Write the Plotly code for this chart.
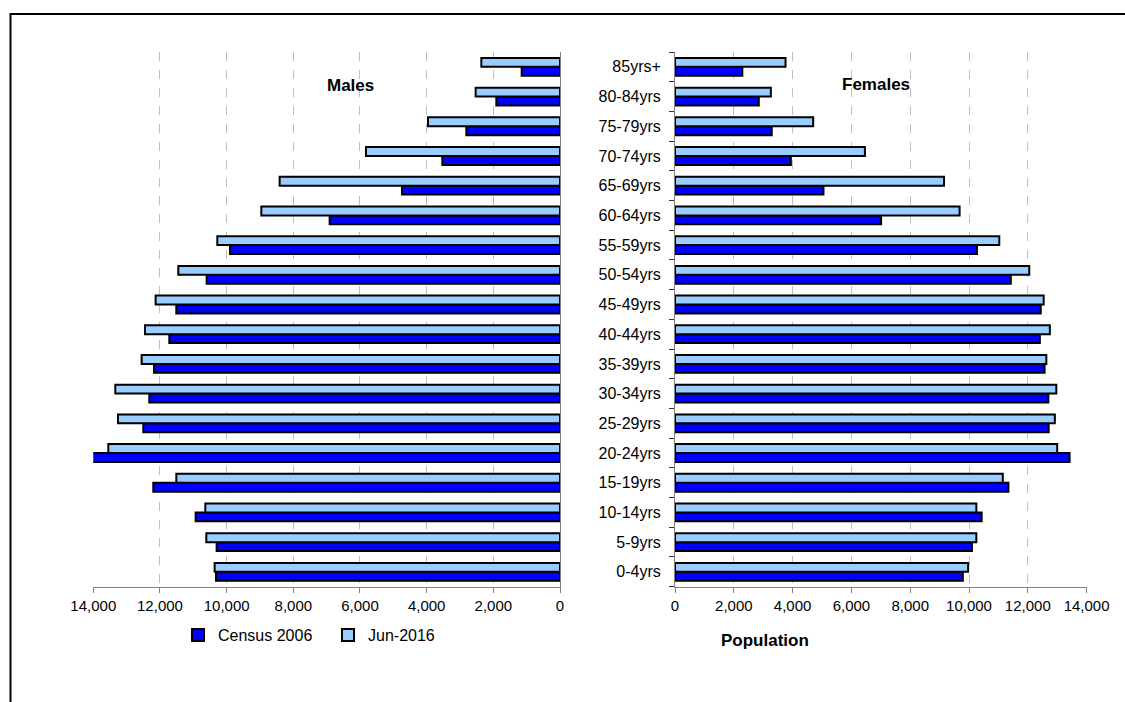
import plotly.graph_objects as go

# Age bands, bottom to top
age_groups = ["0-4yrs", "5-9yrs", "10-14yrs", "15-19yrs", "20-24yrs", "25-29yrs",
              "30-34yrs", "35-39yrs", "40-44yrs", "45-49yrs", "50-54yrs", "55-59yrs",
              "60-64yrs", "65-69yrs", "70-74yrs", "75-79yrs", "80-84yrs", "85yrs+"]

males_census_2006 = [10320, 10300, 10930, 12200, 14120, 12500, 12320, 12180, 11720,
                     11510, 10600, 9900, 6910, 4740, 3530, 2810, 1910, 1150]
males_jun_2016 = [10360, 10610, 10640, 11510, 13550, 13260, 13340, 12550, 12450,
                  12130, 11450, 10280, 8960, 8410, 5820, 3960, 2530, 2360]
females_census_2006 = [9790, 10100, 10430, 11340, 13420, 12710, 12700, 12570, 12410,
                       12440, 11420, 10270, 7010, 5050, 3940, 3290, 2850, 2290]
females_jun_2016 = [9970, 10250, 10250, 11150, 13000, 12920, 12970, 12630, 12750,
                    12540, 12050, 11030, 9680, 9150, 6460, 4700, 3260, 3760]

x_ticks = list(range(0, 14001, 2000))
x_tick_text = [f"{v:,}" for v in x_ticks]

DARK = "#0000FF"
LIGHT = "#99CCFF"
FONT = "Liberation Sans, Arial, sans-serif"
W, H = 1125, 702

fig = go.Figure()

bar_line = dict(color="black", width=2)

fig.add_trace(go.Bar(y=age_groups, x=males_census_2006, orientation="h",
                     name="Census 2006", marker=dict(color=DARK, line=bar_line),
                     xaxis="x", yaxis="y", legendgroup="c06"))
fig.add_trace(go.Bar(y=age_groups, x=males_jun_2016, orientation="h",
                     name="Jun-2016", marker=dict(color=LIGHT, line=bar_line),
                     xaxis="x", yaxis="y", legendgroup="j16"))
fig.add_trace(go.Bar(y=age_groups, x=females_census_2006, orientation="h",
                     name="Census 2006", marker=dict(color=DARK, line=bar_line),
                     xaxis="x2", yaxis="y2", legendgroup="c06", showlegend=False))
fig.add_trace(go.Bar(y=age_groups, x=females_jun_2016, orientation="h",
                     name="Jun-2016", marker=dict(color=LIGHT, line=bar_line),
                     xaxis="x2", yaxis="y2", legendgroup="j16", showlegend=False))

y_dom = [1 - 586.7 / H, 1 - 52 / H]

common_x = dict(
    tickvals=x_ticks, ticktext=x_tick_text,
    showgrid=True, gridcolor="#C0C0C0", griddash="dash", gridwidth=1,
    zeroline=False, showline=True, linecolor="#808080", linewidth=1,
    ticks="outside", ticklen=5, tickcolor="#808080",
    tickfont=dict(family=FONT, size=15, color="black"),
    automargin=False, fixedrange=True,
)

fig.update_layout(
    template="none",
    width=W, height=H,
    autosize=False,
    margin=dict(l=0, r=0, t=0, b=0, pad=0, autoexpand=False),
    paper_bgcolor="white", plot_bgcolor="white",
    font=dict(family=FONT, color="black"),
    barmode="group", bargap=0.4, bargroupgap=0,
    xaxis=dict(domain=[93.3 / W, 560 / W], range=[14000, 0], anchor="y", **common_x),
    xaxis2=dict(domain=[675 / W, 1086.6 / W], range=[0, 14000], anchor="y2", **common_x),
    yaxis=dict(domain=y_dom, anchor="x", side="right", type="category",
               categoryorder="array", categoryarray=age_groups,
               range=[-0.5, len(age_groups) - 0.5],
               showline=True, linecolor="#808080", linewidth=1,
               showticklabels=False, ticks="", showgrid=False, zeroline=False,
               automargin=False, fixedrange=True),
    yaxis2=dict(domain=y_dom, anchor="x2", side="left", type="category",
                categoryorder="array", categoryarray=age_groups,
                range=[-0.5, len(age_groups) - 0.5],
                showline=True, linecolor="#808080", linewidth=1,
                ticks="outside", tickson="boundaries", ticklen=5, tickcolor="#333333",
                ticklabelstandoff=10,
                tickfont=dict(family=FONT, size=16, color="black"),
                showgrid=False, zeroline=False, automargin=False, fixedrange=True),
    legend=dict(orientation="h", x=178 / W, y=1 - 635 / H, xanchor="left", yanchor="middle",
                font=dict(family=FONT, size=16, color="black"),
                entrywidth=105, entrywidthmode="pixels",
                bgcolor="rgba(0,0,0,0)", borderwidth=0, traceorder="normal"),
    showlegend=True,
    annotations=[
        dict(text="<b>Males</b>", x=350 / W, y=1 - 86 / H, xref="paper", yref="paper",
             xanchor="center", yanchor="middle",
             showarrow=False, font=dict(family=FONT, size=17, color="black")),
        dict(text="<b>Females</b>", x=876 / W, y=1 - 85 / H, xref="paper", yref="paper",
             xanchor="center", yanchor="middle",
             showarrow=False, font=dict(family=FONT, size=17, color="black")),
        dict(text="<b>Population</b>", x=765 / W, y=1 - 640 / H, xref="paper", yref="paper",
             xanchor="center", yanchor="middle",
             showarrow=False, font=dict(family=FONT, size=17, color="black")),
    ],
    shapes=[
        dict(type="rect", xref="paper", yref="paper",
             x0=10.5 / W, x1=1.05, y0=-0.05, y1=1 - 14 / H,
             line=dict(color="black", width=2), fillcolor="rgba(0,0,0,0)"),
    ],
)

fig.write_html("out.html")
